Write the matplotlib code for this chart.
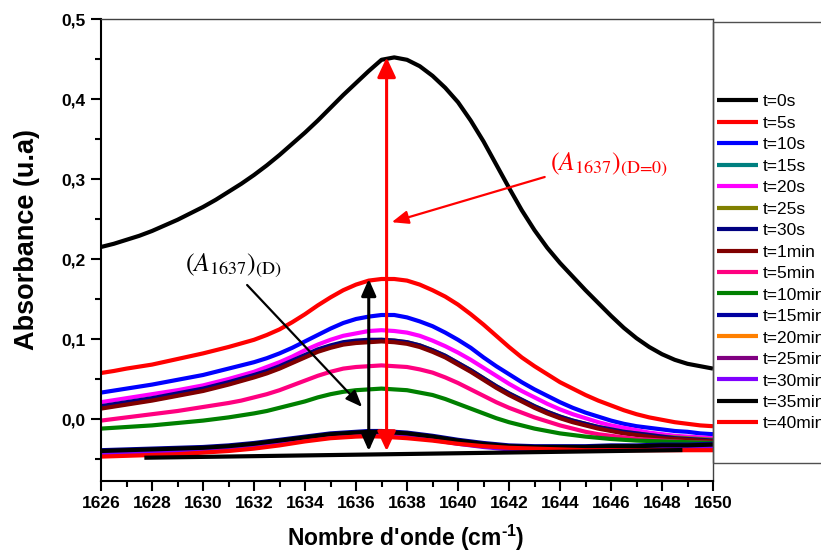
import matplotlib
matplotlib.use("Agg")
import matplotlib.pyplot as plt
from matplotlib.ticker import MultipleLocator, FixedLocator, FuncFormatter
from matplotlib.patches import Rectangle

# Wavenumber grid (cm-1), 0.5 cm-1 step
wavenumber = [1626 + 0.5 * i for i in range(49)]

# Absorbance spectra of the amide I region over time
a_0s = [0.215, 0.219, 0.224, 0.229, 0.235, 0.242, 0.249, 0.257, 0.265, 0.274,
        0.284, 0.294, 0.305, 0.317, 0.330, 0.344, 0.358, 0.373, 0.389, 0.405,
        0.420, 0.435, 0.449, 0.452, 0.449, 0.441, 0.429, 0.414, 0.396, 0.373,
        0.347, 0.318, 0.289, 0.261, 0.236, 0.214, 0.195, 0.178, 0.161, 0.145,
        0.129, 0.114, 0.101, 0.090, 0.081, 0.074, 0.069, 0.066, 0.063]
a_5s = [0.0575, 0.060, 0.063, 0.0655, 0.068, 0.0715, 0.075, 0.0785, 0.082, 0.086,
        0.090, 0.0945, 0.099, 0.105, 0.112, 0.121, 0.131, 0.142, 0.152, 0.161,
        0.168, 0.173, 0.175, 0.175, 0.173, 0.168, 0.161, 0.153, 0.143, 0.131,
        0.118, 0.104, 0.090, 0.077, 0.066, 0.056, 0.046, 0.038, 0.030, 0.023,
        0.017, 0.011, 0.006, 0.002, -0.001, -0.004, -0.006, -0.008, -0.009]
a_10s = [0.033, 0.0355, 0.038, 0.0405, 0.043, 0.046, 0.049, 0.052, 0.055, 0.059,
         0.063, 0.067, 0.071, 0.076, 0.082, 0.089, 0.097, 0.105, 0.113, 0.120,
         0.125, 0.128, 0.130, 0.130, 0.127, 0.122, 0.116, 0.108, 0.099, 0.089,
         0.077, 0.066, 0.056, 0.046, 0.037, 0.029, 0.021, 0.014, 0.008, 0.003,
         -0.002, -0.006, -0.009, -0.011, -0.013, -0.015, -0.016, -0.018, -0.019]
a_15s = [0.014, 0.0165, 0.019, 0.0215, 0.024, 0.027, 0.030, 0.033, 0.036, 0.040,
         0.044, 0.0485, 0.053, 0.058, 0.064, 0.071, 0.078, 0.085, 0.090, 0.094,
         0.096, 0.097, 0.098, 0.097, 0.095, 0.091, 0.085, 0.078, 0.069, 0.060,
         0.050, 0.040, 0.031, 0.023, 0.015, 0.008, 0.002, -0.003, -0.007, -0.011,
         -0.014, -0.017, -0.019, -0.021, -0.023, -0.024, -0.025, -0.026, -0.027]
a_20s = [0.021, 0.0235, 0.026, 0.0285, 0.031, 0.0335, 0.036, 0.039, 0.042, 0.046,
         0.050, 0.0545, 0.059, 0.065, 0.071, 0.078, 0.086, 0.093, 0.099, 0.104,
         0.107, 0.110, 0.111, 0.110, 0.108, 0.104, 0.098, 0.091, 0.083, 0.074,
         0.064, 0.054, 0.044, 0.035, 0.027, 0.019, 0.012, 0.006, 0.001, -0.004,
         -0.008, -0.011, -0.014, -0.017, -0.019, -0.021, -0.022, -0.023, -0.024]
a_25s = [0.015, 0.0175, 0.020, 0.0225, 0.025, 0.028, 0.031, 0.034, 0.037, 0.041,
         0.045, 0.0495, 0.054, 0.059, 0.065, 0.072, 0.079, 0.086, 0.091, 0.095,
         0.097, 0.098, 0.099, 0.098, 0.096, 0.092, 0.086, 0.079, 0.070, 0.061,
         0.051, 0.041, 0.032, 0.024, 0.016, 0.009, 0.003, -0.002, -0.006, -0.010,
         -0.013, -0.016, -0.018, -0.020, -0.022, -0.023, -0.024, -0.025, -0.026]
a_30s = [0.016, 0.0185, 0.021, 0.0235, 0.026, 0.029, 0.032, 0.035, 0.038, 0.042,
         0.046, 0.0505, 0.055, 0.060, 0.066, 0.073, 0.080, 0.087, 0.092, 0.096,
         0.098, 0.099, 0.099, 0.098, 0.096, 0.092, 0.086, 0.079, 0.070, 0.061,
         0.051, 0.041, 0.032, 0.024, 0.016, 0.009, 0.003, -0.002, -0.006, -0.010,
         -0.013, -0.016, -0.018, -0.020, -0.022, -0.024, -0.025, -0.026, -0.027]
a_1min = [0.013, 0.0155, 0.018, 0.0205, 0.023, 0.026, 0.029, 0.032, 0.035, 0.039,
          0.043, 0.0475, 0.052, 0.057, 0.063, 0.070, 0.077, 0.084, 0.089, 0.093,
          0.095, 0.096, 0.097, 0.096, 0.094, 0.090, 0.084, 0.077, 0.068, 0.059,
          0.049, 0.039, 0.030, 0.022, 0.014, 0.007, 0.001, -0.004, -0.008, -0.012,
          -0.015, -0.018, -0.020, -0.022, -0.024, -0.025, -0.026, -0.027, -0.028]
a_5min = [-0.002, 0.000, 0.002, 0.004, 0.006, 0.008, 0.010, 0.0125, 0.015, 0.0175,
          0.020, 0.023, 0.027, 0.031, 0.036, 0.042, 0.048, 0.054, 0.059, 0.063,
          0.065, 0.066, 0.067, 0.066, 0.065, 0.062, 0.058, 0.052, 0.045, 0.037,
          0.029, 0.021, 0.014, 0.008, 0.002, -0.003, -0.008, -0.012, -0.016, -0.019,
          -0.021, -0.023, -0.025, -0.026, -0.027, -0.028, -0.029, -0.0295, -0.030]
a_10min = [-0.012, -0.011, -0.010, -0.009, -0.008, -0.0065, -0.005, -0.0035, -0.002, 0.000,
           0.002, 0.0045, 0.007, 0.010, 0.014, 0.018, 0.022, 0.027, 0.031, 0.034,
           0.036, 0.037, 0.038, 0.037, 0.036, 0.033, 0.030, 0.025, 0.019, 0.013,
           0.007, 0.001, -0.004, -0.008, -0.012, -0.015, -0.018, -0.020, -0.022, -0.0235,
           -0.025, -0.026, -0.027, -0.0275, -0.028, -0.0285, -0.029, -0.0295, -0.030]
a_15min = [-0.039, -0.0385, -0.038, -0.0375, -0.037, -0.0365, -0.036, -0.0355, -0.035, -0.034,
           -0.033, -0.0315, -0.030, -0.028, -0.026, -0.024, -0.022, -0.020, -0.018, -0.017,
           -0.016, -0.015, -0.015, -0.016, -0.017, -0.019, -0.021, -0.0235, -0.026, -0.028,
           -0.030, -0.0315, -0.033, -0.0335, -0.034, -0.034, -0.034, -0.034, -0.034, -0.0335,
           -0.033, -0.033, -0.033, -0.0325, -0.032, -0.032, -0.032, -0.0315, -0.031]
a_20min = [-0.042, -0.0415, -0.041, -0.0405, -0.040, -0.0395, -0.039, -0.0385, -0.038, -0.037,
           -0.036, -0.0345, -0.033, -0.031, -0.029, -0.027, -0.025, -0.023, -0.021, -0.020,
           -0.019, -0.018, -0.018, -0.019, -0.020, -0.022, -0.024, -0.0265, -0.029, -0.031,
           -0.033, -0.0345, -0.036, -0.0365, -0.037, -0.037, -0.037, -0.037, -0.037, -0.0365,
           -0.036, -0.036, -0.036, -0.0355, -0.035, -0.035, -0.035, -0.0345, -0.034]
a_25min = [-0.043, -0.0425, -0.042, -0.0415, -0.041, -0.0405, -0.040, -0.0395, -0.039, -0.038,
           -0.037, -0.0355, -0.034, -0.032, -0.030, -0.028, -0.026, -0.024, -0.022, -0.021,
           -0.020, -0.019, -0.019, -0.020, -0.021, -0.023, -0.025, -0.0275, -0.030, -0.032,
           -0.034, -0.0355, -0.037, -0.0375, -0.038, -0.038, -0.038, -0.038, -0.038, -0.0375,
           -0.037, -0.037, -0.037, -0.0365, -0.036, -0.036, -0.036, -0.0355, -0.035]
a_30min = [-0.044, -0.0435, -0.043, -0.0425, -0.042, -0.0415, -0.041, -0.0405, -0.040, -0.039,
           -0.038, -0.0365, -0.035, -0.033, -0.031, -0.029, -0.027, -0.025, -0.023, -0.022,
           -0.021, -0.020, -0.020, -0.021, -0.022, -0.024, -0.026, -0.0285, -0.031, -0.033,
           -0.035, -0.0365, -0.038, -0.0385, -0.039, -0.039, -0.039, -0.039, -0.039, -0.0385,
           -0.038, -0.038, -0.038, -0.0375, -0.037, -0.037, -0.037, -0.0365, -0.036]
a_35min = [-0.040, -0.0395, -0.039, -0.0385, -0.038, -0.0375, -0.037, -0.0365, -0.036, -0.035,
           -0.034, -0.0325, -0.031, -0.029, -0.027, -0.025, -0.023, -0.021, -0.019, -0.018,
           -0.017, -0.016, -0.016, -0.017, -0.018, -0.020, -0.022, -0.0245, -0.027, -0.029,
           -0.031, -0.0325, -0.034, -0.0345, -0.035, -0.035, -0.035, -0.035, -0.035, -0.0345,
           -0.034, -0.034, -0.034, -0.0335, -0.033, -0.033, -0.033, -0.0325, -0.032]
a_40min = [-0.047, -0.0465, -0.046, -0.0455, -0.045, -0.0445, -0.044, -0.043, -0.042, -0.041,
           -0.040, -0.0385, -0.037, -0.035, -0.033, -0.0305, -0.028, -0.026, -0.024, -0.023,
           -0.022, -0.0215, -0.022, -0.023, -0.024, -0.0255, -0.027, -0.029, -0.031, -0.0325,
           -0.034, -0.035, -0.036, -0.0365, -0.037, -0.0375, -0.038, -0.0385, -0.039, -0.039,
           -0.039, -0.039, -0.039, -0.039, -0.039, -0.039, -0.039, -0.039, -0.039]

series = [a_0s, a_5s, a_10s, a_15s, a_20s, a_25s, a_30s, a_1min, a_5min, a_10min,
          a_15min, a_20min, a_25min, a_30min, a_35min, a_40min]
labels = ["t=0s", "t=5s", "t=10s", "t=15s", "t=20s", "t=25s", "t=30s", "t=1min", "t=5min",
          "t=10min", "t=15min", "t=20min", "t=25min", "t=30min", "t=35min", "t=40min"]
colors = ["#000000", "#FF0000", "#0000FF", "#008080", "#FF00FF", "#808000", "#000080", "#800000",
          "#FF0080", "#008000", "#0000A0", "#FF8000", "#800080", "#8000FF", "#000000", "#FF0000"]

# Baseline drawn under the band
baseline_x = [1627.7, 1648.8]
baseline_y = [-0.0484, -0.0388]

# Positions of the two vertical measurement arrows
x_a_d0 = 1637.2
x_a_d = 1636.5
arrow_bottom = -0.040

plt.rcParams['font.family'] = ['Liberation Sans', 'DejaVu Sans']
plt.rcParams['mathtext.fontset'] = 'custom'
plt.rcParams['mathtext.rm'] = 'Liberation Sans:bold'
plt.rcParams['mathtext.bf'] = 'Liberation Sans:bold'
plt.rcParams['mathtext.it'] = 'Liberation Sans:bold:italic'

W, H = 821, 553
fig = plt.figure(figsize=(W / 100, H / 100), dpi=100)
ax = fig.add_axes([101 / W, 1 - 481 / H, (713 - 101) / W, (481 - 19) / H])

handles = []
for vals, lab, col in zip(series, labels, colors):
    ln, = ax.plot(wavenumber, vals, color=col, lw=3.0, label=lab,
                  solid_joinstyle='round', solid_capstyle='butt')
    handles.append(ln)

ax.plot(baseline_x, baseline_y, color='black', lw=3.0, solid_capstyle='butt')

ax.set_xlim(1626, 1650)
ax.set_ylim(-0.0775, 0.5)

ax.xaxis.set_major_locator(MultipleLocator(2))
ax.xaxis.set_minor_locator(MultipleLocator(1))
ax.yaxis.set_major_locator(FixedLocator([0.0, 0.1, 0.2, 0.3, 0.4, 0.5]))
ax.yaxis.set_minor_locator(FixedLocator([-0.05, 0.05, 0.15, 0.25, 0.35, 0.45]))
ax.yaxis.set_major_formatter(FuncFormatter(lambda v, p: f"{v:.1f}".replace('.', ',')))

ax.tick_params(which='both', direction='out', width=1.5, top=False, right=False)
ax.tick_params(which='major', length=7, labelsize=12.5, pad=4)
ax.tick_params(which='minor', length=4)
for lab in ax.get_xticklabels() + ax.get_yticklabels():
    lab.set_fontweight('bold')

for side in ('left', 'bottom'):
    ax.spines[side].set_linewidth(1.5)
    ax.spines[side].set_color('black')
for side in ('top', 'right'):
    ax.spines[side].set_linewidth(1.0)
    ax.spines[side].set_color('#404040')

ax.set_xlabel(r"Nombre d'onde (cm$^{\text{-1}}$)", fontsize=16.5, fontweight='bold')
ax.xaxis.set_label_coords((406 - 101) / 612, (481 - 538) / 462)
ax.xaxis.label.set_va('center')
ax.set_ylabel("Absorbance (u.a)", fontsize=19.5, fontweight='bold')
ax.yaxis.set_label_coords((27 - 101) / 612, (481 - 239) / 462)
ax.yaxis.label.set_va('center')

# Vertical double arrows: peak height at D=0 and at D
ax.annotate('', xy=(x_a_d0, max(a_0s)), xytext=(x_a_d0, arrow_bottom),
            arrowprops=dict(arrowstyle='<|-|>,head_length=0.6,head_width=0.28',
                            color='red', lw=2.2, shrinkA=0, shrinkB=0, mutation_scale=20))
ax.annotate('', xy=(x_a_d, max(a_5s)), xytext=(x_a_d, arrow_bottom),
            arrowprops=dict(arrowstyle='<|-|>,head_length=0.5,head_width=0.22',
                            color='black', lw=2.2, shrinkA=0, shrinkB=0, mutation_scale=20))

# Pointer arrows from the labels
ax.annotate('', xy=(1637.4, 0.246), xytext=(1643.4, 0.3025),
            arrowprops=dict(arrowstyle='-|>,head_length=0.5,head_width=0.2',
                            color='red', lw=1.6, shrinkA=0, shrinkB=0, mutation_scale=20))
ax.annotate('', xy=(1636.24, 0.015), xytext=(1631.73, 0.1675),
            arrowprops=dict(arrowstyle='-|>,head_length=0.5,head_width=0.2',
                            color='black', lw=1.6, shrinkA=0, shrinkB=0, mutation_scale=20))

ax.text(1643.6, 0.318, r"$(A_{1637})_{\text{(D=0)}}$", color='red', fontsize=18.5,
        math_fontfamily='stix', ha='left', va='center')
ax.text(1629.29, 0.191, r"$(A_{1637})_{\text{(D)}}$", color='black', fontsize=18.5,
        math_fontfamily='stix', ha='left', va='center')

# Legend box at the right edge
fig.patches.append(Rectangle((713 / W, 1 - 463 / H), 0.3, (463 - 22) / H,
                             transform=fig.transFigure, fill=False,
                             edgecolor='#505050', lw=1.0))
fig.legend(handles, labels, loc='upper left', bbox_to_anchor=(717 / W, 1 - 94 / H),
           frameon=False, fontsize=12.5, handlelength=2.36, handletextpad=0.29,
           labelspacing=0.365, borderpad=0, borderaxespad=0)

fig.savefig("out.png", dpi=100)
